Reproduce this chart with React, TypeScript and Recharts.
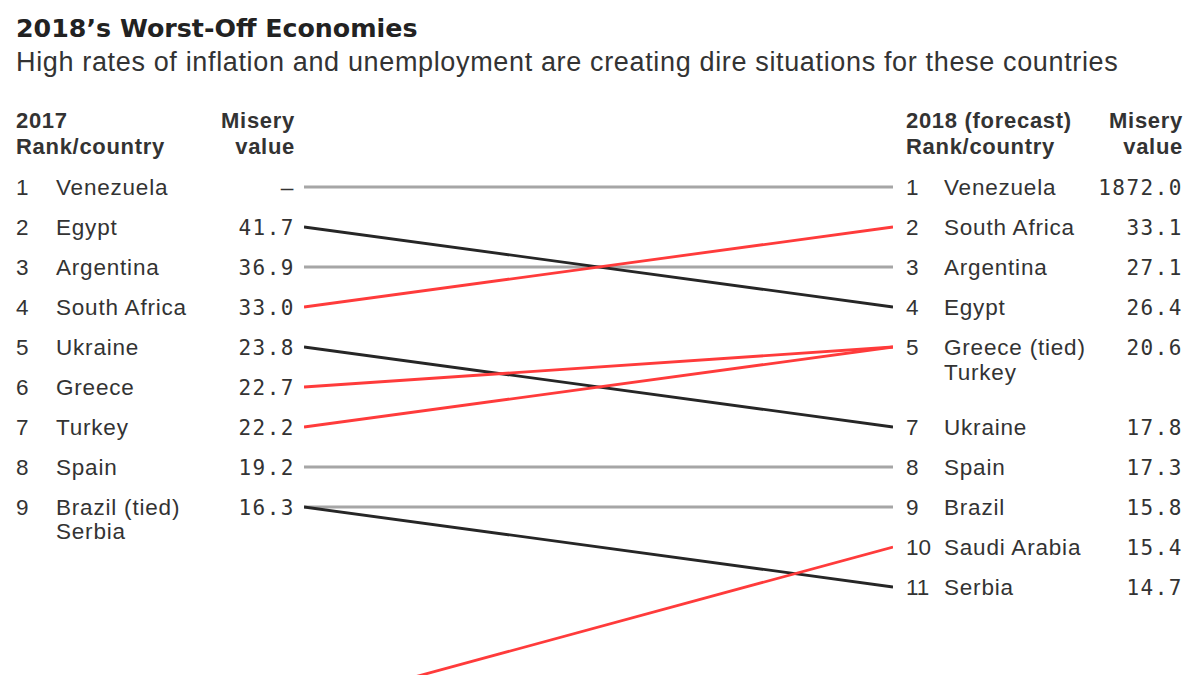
import React from 'react';
import { LineChart, Line, XAxis, YAxis } from 'recharts';

// ---- data ----
const countries = ['Venezuela', 'Egypt', 'Argentina', 'South Africa', 'Ukraine', 'Greece', 'Turkey', 'Spain', 'Brazil', 'Serbia', 'Saudi Arabia'];
const rank2017 = [1, 2, 3, 4, 5, 6, 7, 8, 9, 9, 14];
const rank2018 = [1, 4, 3, 2, 7, 5, 5, 8, 9, 11, 10];

const leftRanks = [1, 2, 3, 4, 5, 6, 7, 8, 9];
const leftNames = [['Venezuela'], ['Egypt'], ['Argentina'], ['South Africa'], ['Ukraine'], ['Greece'], ['Turkey'], ['Spain'], ['Brazil (tied)', 'Serbia']];
const leftValues = ['–', '41.7', '36.9', '33.0', '23.8', '22.7', '22.2', '19.2', '16.3'];

const rightRanks = [1, 2, 3, 4, 5, 7, 8, 9, 10, 11];
const rightNames = [['Venezuela'], ['South Africa'], ['Argentina'], ['Egypt'], ['Greece (tied)', 'Turkey'], ['Ukraine'], ['Spain'], ['Brazil'], ['Saudi Arabia'], ['Serbia']];
const rightValues = ['1872.0', '33.1', '27.1', '26.4', '20.6', '17.8', '17.3', '15.8', '15.4', '14.7'];

const TEXT = '#333333';
const SANS = '"Liberation Sans", Arial, Helvetica, sans-serif';
const MONO = '"DejaVu Sans Mono", "Liberation Mono", monospace';
const GRAY = '#a6a6a6';
const BLACK = '#262626';
const RED = '#ff3b3b';

const ROW_FS = 22.5;
const ROW_LS = 0.8;

const colorFor = (a: number, b: number) => (a === b ? GRAY : b < a ? RED : BLACK);

const order = countries
  .map((c, i) => ({ c, i, o: rank2017[i] === rank2018[i] ? 0 : rank2018[i] > rank2017[i] ? 1 : 2 }))
  .sort((a, b) => a.o - b.o);

const LeftTick = (props: any) => {
  const { y, payload } = props;
  const i = leftRanks.indexOf(payload.value);
  if (i < 0) return <g />;
  return (
    <g>
      <text x={16} y={y} dy={8} fontFamily={SANS} fontSize={ROW_FS} fill={TEXT}>{leftRanks[i]}</text>
      <text x={56} y={y} fontFamily={SANS} fontSize={ROW_FS} letterSpacing={ROW_LS} fill={TEXT}>
        {leftNames[i].map((n, k) => (
          <tspan key={k} x={56} dy={k === 0 ? 8 : 24}>{n}</tspan>
        ))}
      </text>
      <text x={295} y={y} dy={8} textAnchor="end" fontFamily={MONO} fontSize={21} letterSpacing={1.5} fill={TEXT}>{leftValues[i]}</text>
    </g>
  );
};

const RightTick = (props: any) => {
  const { y, payload } = props;
  const i = rightRanks.indexOf(payload.value);
  if (i < 0) return <g />;
  return (
    <g>
      <text x={906} y={y} dy={8} fontFamily={SANS} fontSize={ROW_FS} fill={TEXT}>{rightRanks[i]}</text>
      <text x={944} y={y} fontFamily={SANS} fontSize={ROW_FS} letterSpacing={ROW_LS} fill={TEXT}>
        {rightNames[i].map((n, k) => (
          <tspan key={k} x={944} dy={k === 0 ? 8 : 25}>{n}</tspan>
        ))}
      </text>
      <text x={1183} y={y} dy={8} textAnchor="end" fontFamily={MONO} fontSize={21} letterSpacing={1.5} fill={TEXT}>{rightValues[i]}</text>
    </g>
  );
};

const headStyle: React.CSSProperties = {
  position: 'absolute',
  fontFamily: SANS,
  fontWeight: 700,
  fontSize: 22,
  letterSpacing: 0.7,
  lineHeight: '26px',
  color: TEXT,
  whiteSpace: 'nowrap',
};

export default function App() {
  return (
    <div style={{ position: 'absolute', left: 0, top: 0, width: 1200, height: 675, overflow: 'hidden', background: '#fff', fontFamily: SANS }}>
      <div style={{ position: 'absolute', left: 16, top: 13, fontFamily: '"DejaVu Sans", sans-serif', fontSize: 25.3, lineHeight: '31px', fontWeight: 700, color: '#222', whiteSpace: 'nowrap' }}>
        2018’s Worst-Off Economies
      </div>
      <div style={{ position: 'absolute', left: 16, top: 47, fontSize: 27, lineHeight: '31px', letterSpacing: 0.65, color: TEXT, whiteSpace: 'nowrap' }}>
        High rates of inflation and unemployment are creating dire situations for these countries
      </div>
      <div style={{ ...headStyle, left: 16, top: 108 }}>2017<br />Rank/country</div>
      <div style={{ ...headStyle, left: 175, width: 120, top: 108, textAlign: 'right' }}>Misery<br />value</div>
      <div style={{ ...headStyle, left: 906, top: 108 }}>2018 (forecast)<br />Rank/country</div>
      <div style={{ ...headStyle, left: 1063, width: 120, top: 108, textAlign: 'right' }}>Misery<br />value</div>
      <div style={{ position: 'absolute', left: 0, top: 0 }}>
        <LineChart width={1200} height={720} margin={{ top: 167, right: 0, bottom: 13, left: 0 }}>
          <XAxis type="number" dataKey="x" domain={[0, 1]} hide allowDataOverflow />
          <YAxis
            yAxisId="left"
            orientation="left"
            type="number"
            domain={[0.5, 14]}
            reversed
            allowDataOverflow
            width={304}
            ticks={leftRanks}
            interval={0}
            axisLine={false}
            tickLine={false}
            tick={<LeftTick />}
          />
          <YAxis
            yAxisId="right"
            orientation="right"
            type="number"
            domain={[0.5, 14]}
            reversed
            allowDataOverflow
            width={307}
            ticks={rightRanks}
            interval={0}
            axisLine={false}
            tickLine={false}
            tick={<RightTick />}
          />
          {order.map(({ c, i }) => (
            <Line
              key={c}
              yAxisId="left"
              data={[
                { x: 0, y: rank2017[i] },
                { x: 1, y: rank2018[i] },
              ]}
              dataKey="y"
              type="linear"
              stroke={colorFor(rank2017[i], rank2018[i])}
              strokeWidth={2.8}
              dot={false}
              activeDot={false}
              isAnimationActive={false}
            />
          ))}
        </LineChart>
      </div>
    </div>
  );
}
